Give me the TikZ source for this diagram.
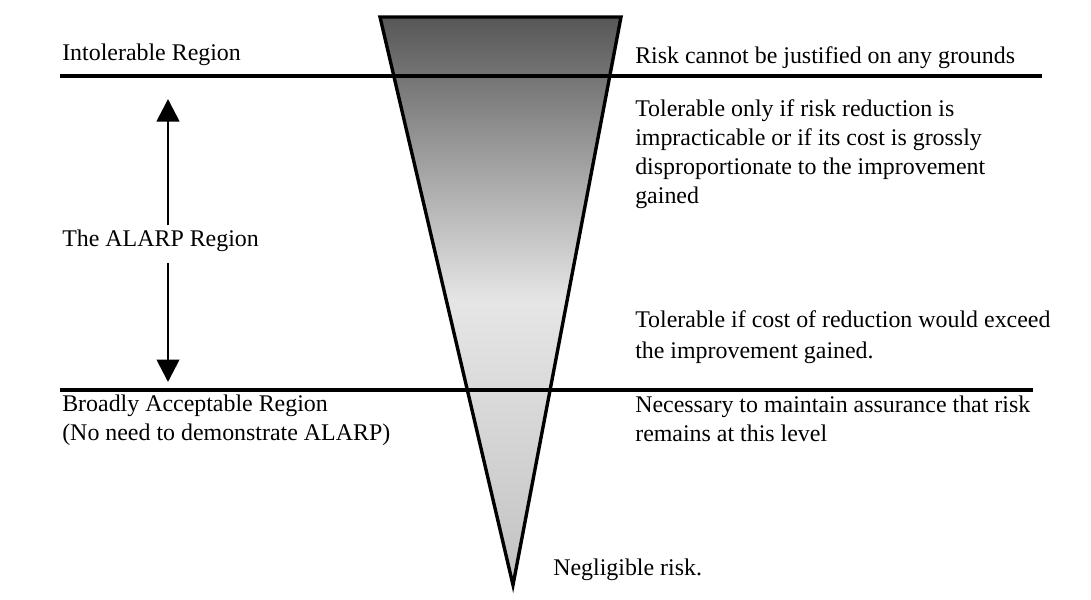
\documentclass[tikz,border=0pt]{standalone}
\usepackage{fontspec}
\setmainfont{Liberation Serif}
\usepackage{tikz}
\usetikzlibrary{positioning}
\usetikzlibrary{calc,arrows.meta}

\begin{document}
\begin{tikzpicture}[x=0.025cm, y=-0.025cm]
 \useasboundingbox (0,0) rectangle (1091,599);

\tikzstyle{label}=[anchor=base west,inner sep=0pt,align=left,font=\fontsize{17}{20.6}\selectfont]
\tikzstyle{region line}=[line width=2.8pt]
\tikzstyle{alarp arrow}=[line width=2pt,-{Triangle[width=16pt,length=16pt]}]

   %draw triangle
    \coordinate (tl) at (380,17);
    \coordinate (tr) at (621,17);
    \coordinate (tip) at (513,585);
    \shade[top color=black!66,bottom color=black!24,middle color=black!10] (tl) -- (tr) -- (tip) -- cycle;
    \draw[line width=2.4pt,line join=miter] (tl) -- (tr) -- (tip) -- cycle;

   %draw region lines
    \coordinate (upper_left) at (60,76);
    \coordinate (upper_right) at (1042,76);
    \coordinate (lower_left) at (60,390);
    \coordinate (lower_right) at (1033,390);
    \draw[region line] (upper_left) -- (upper_right);
    \draw[region line] (lower_left) -- (lower_right);

   %left labels (base = last line)
    \node (intol) [label] at (62,60) {Intolerable Region};
    \node (alarp) [label] at (62,246) {The ALARP Region};
    \node (broad) [label] at (62,440) {Broadly Acceptable Region\\(No need to demonstrate ALARP)};

   %right labels
    \node (intol_text) [label] at (635,63) {Risk cannot be justified on any grounds};
    \node (only_text) [label] at (635,203) {Tolerable only if risk reduction is\\impracticable or if its cost is grossly\\disproportionate to the improvement\\gained};
    \node (cost_text) [label] at (635,358) {Tolerable if cost of reduction would exceed\\[1pt]the improvement gained.};
    \node (nec_text) [label] at (635,441) {Necessary to maintain assurance that risk\\remains at this level};
    \node (negl) [label] at (553,575) {Negligible risk.};

   %arrows
    \coordinate (arrow_x) at (168,0);
    \coordinate (up_tip) at (168,99);
    \coordinate (down_tip) at (168,382);
    \draw[alarp arrow] ($(alarp.north -| arrow_x)+(0,-4)$) -- (up_tip);
    \draw[alarp arrow] ($(alarp.south -| arrow_x)+(0,12)$) -- (down_tip);

\end{tikzpicture}
\end{document}
